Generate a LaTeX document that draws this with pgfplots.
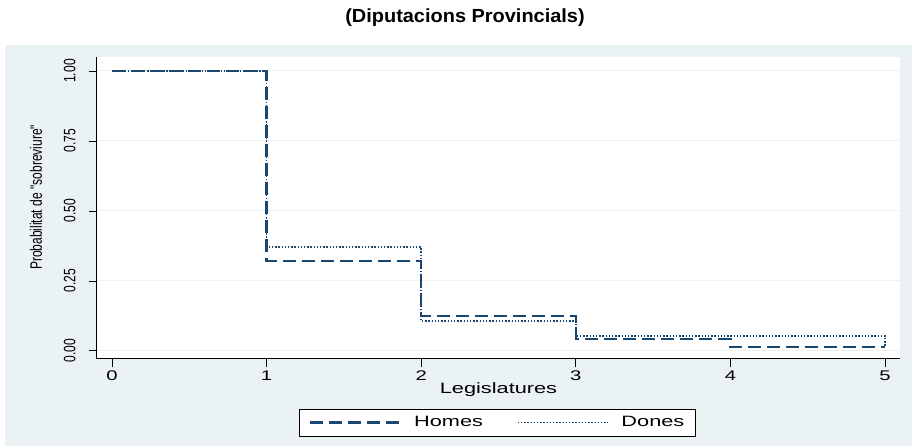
\documentclass[border=0pt]{standalone}
\usepackage{pgfplots}
\pgfplotsset{compat=1.18}
\usepackage{fontspec}
\setmainfont{Liberation Sans}
% Stata output is squeezed vertically: horizontal text looks wide, rotated text narrow
\newfontfamily\narrow[FakeStretch=0.73]{Liberation Sans}
\newfontfamily\wide[FakeStretch=1.45]{Liberation Sans}
\newfontfamily\titlefont[FakeStretch=1.05]{Liberation Sans}
\definecolor{stblue}{HTML}{1A476F}
\definecolor{stbg}{HTML}{EAF2F3}
\begin{document}
\begin{tikzpicture}[x=1pt,y=1pt]
% page and graph region
\fill[white] (-97,-87) rectangle (818,359);
\fill[stbg] (-92,-87) rectangle (815,314);
\node[font=\titlefont\fontsize{19}{22}\selectfont\bfseries] at (368,341) {(Diputacions Provincials)};
\begin{axis}[
  at={(0,0)}, anchor=south west,
  scale only axis, width=803pt, height=302pt,
  xmin=-0.097, xmax=5.097, ymin=-0.029, ymax=1.05,
  axis x line*=bottom, axis y line*=left,
  axis line style={black, line width=1pt, -},
  axis background/.style={fill=white},
  xtick={0,1,2,3,4,5},
  ytick={0,0.25,0.5,0.75,1},
  yticklabels={0.00,0.25,0.50,0.75,1.00},
  tick align=outside, major tick length=8pt,
  tick style={black, line width=0.8pt},
  ymajorgrids, grid style={stbg, line width=1pt},
  xticklabel style={font=\wide\fontsize{14}{16}\selectfont},
  yticklabel style={font=\narrow\fontsize{16.5}{18}\selectfont, rotate=90, anchor=south},
  yticklabel shift=10pt,
  /pgf/number format/assume math mode=true,
  xlabel={Legislatures},
  xlabel style={font=\wide\fontsize{15}{17}\selectfont, at={(axis description cs:0.5,-0.1)}, anchor=center},
  ylabel={Probabilitat de "sobreviure"},
  ylabel style={font=\narrow\fontsize{16.5}{18}\selectfont, at={(axis description cs:-0.076,0.535)}, anchor=center},
  legend columns=2,
  legend style={at={(0.4988,-0.2103)}, anchor=center, draw=black, line width=0.8pt,
    fill=white, font=\wide\fontsize{15}{17}\selectfont, inner xsep=9pt, inner ysep=5.5pt,
    /tikz/every odd column/.append style={column sep=11pt},
    /tikz/every even column/.append style={column sep=32pt}},
  legend image code/.code={\draw[#1] (0pt,0pt) -- (90pt,0pt);},
]
\addplot[const plot, stblue, line width=2.4pt, dash pattern=on 13pt off 6pt]
  coordinates {(0,1) (1,0.321) (2,0.125) (3,0.043) (4,0.014) (5,0.014)};
\addlegendentry{Homes}
\addplot[const plot, stblue, line width=1.5pt, dash pattern=on 1.4pt off 1.8pt]
  coordinates {(0,1) (1,0.371) (2,0.107) (3,0.054) (4,0.054) (5,0.054) (5,0.014)};
\addlegendentry{Dones}
\end{axis}
\end{tikzpicture}
\end{document}
